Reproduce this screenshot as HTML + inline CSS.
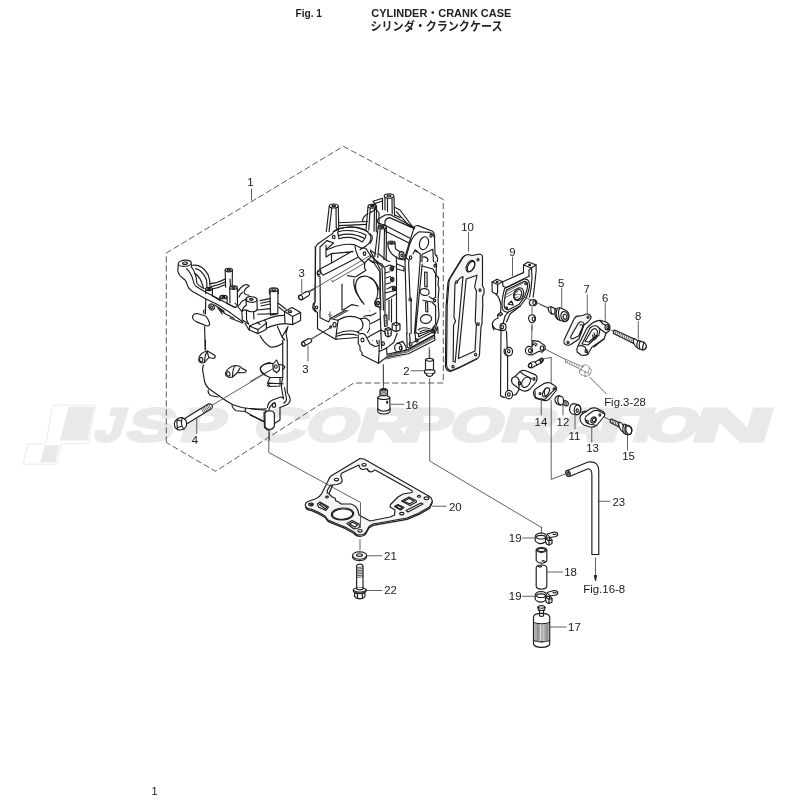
<!DOCTYPE html>
<html lang="ja"><head><meta charset="utf-8"><title>Fig. 1 CYLINDER・CRANK CASE</title>
<style>
html,body{margin:0;padding:0;background:#fff;}
body{width:800px;height:800px;overflow:hidden;position:relative;font-family:"Liberation Sans","Noto Sans CJK JP",sans-serif;}
svg{position:absolute;left:0;top:0;display:block;filter:grayscale(1)}
.l{fill:none;stroke:#1c1c1c;stroke-width:1.15;stroke-linecap:round;stroke-linejoin:round}
.t{fill:none;stroke:#444;stroke-width:0.85;stroke-linecap:round;stroke-linejoin:round}
.w{fill:#fff;stroke:#1c1c1c;stroke-width:1.15;stroke-linecap:round;stroke-linejoin:round}
.k{fill:#1a1a1a;stroke:#1a1a1a;stroke-width:0.6;stroke-linejoin:round}
path,ellipse,circle,line,rect,polygon,polyline{vector-effect:non-scaling-stroke}
.d{fill:none;stroke:#4a4a4a;stroke-width:0.9;stroke-dasharray:6.2 2.8}
.n{font-family:"Liberation Sans",sans-serif;font-size:11.4px;fill:#1a1a1a}
.wm{font-family:"Liberation Sans",sans-serif;font-weight:bold;font-style:italic;fill:#e9e9e9}
</style></head><body>
<svg width="800" height="800" viewBox="0 0 800 800">
<g id="watermark">
<path d="M52.8 405.2 L95.5 405.2 L88 443.8 L61.8 443.8 L55.8 464.3 L22.8 464.3 L28 443.8 L46 443.8 Z" fill="#fff" stroke="#f1f1f1" stroke-width="1.6"/>
<path d="M68.5 406.7 L94 406.7 L87.3 440.5 L60 440.5 Z" fill="#e9e9e9"/>
<path d="M45 445.3 Q46 445.3 59.5 445.3 L55 462.5 L40 462.5 Z" fill="#e9e9e9"/>
<text class="wm" style="font-style:normal;vector-effect:non-scaling-stroke" transform="translate(0,440.75) skewX(-16.5) scale(1.5,1)" y="0" font-size="46.51" stroke="#e9e9e9" stroke-width="3.0" stroke-linejoin="miter"><tspan x="61.83" textLength="18.81" lengthAdjust="spacingAndGlyphs">J</tspan><tspan x="82.64" textLength="31.18" lengthAdjust="spacingAndGlyphs">S</tspan><tspan x="118.75" textLength="29.07" lengthAdjust="spacingAndGlyphs">P</tspan></text>
<text class="wm" style="font-style:normal;vector-effect:non-scaling-stroke" transform="translate(0,440.75) skewX(-16.5) scale(1.5,1)" y="0" font-size="46.51" stroke="#e9e9e9" stroke-width="3.0" stroke-linejoin="miter"><tspan x="167.54" textLength="34.59" lengthAdjust="spacingAndGlyphs">C</tspan><tspan x="202.15" textLength="35.08" lengthAdjust="spacingAndGlyphs">O</tspan><tspan x="236.36" textLength="35.63" lengthAdjust="spacingAndGlyphs">R</tspan><tspan x="266.70" textLength="32.21" lengthAdjust="spacingAndGlyphs">P</tspan><tspan x="298.32" textLength="35.08" lengthAdjust="spacingAndGlyphs">O</tspan><tspan x="332.63" textLength="35.63" lengthAdjust="spacingAndGlyphs">R</tspan><tspan x="366.18" textLength="35.15" lengthAdjust="spacingAndGlyphs">A</tspan><tspan x="387.06" textLength="33.89" lengthAdjust="spacingAndGlyphs">T</tspan><tspan x="420.39" textLength="12.23" lengthAdjust="spacingAndGlyphs">I</tspan><tspan x="428.48" textLength="35.08" lengthAdjust="spacingAndGlyphs">O</tspan><tspan x="459.74" textLength="52.39" lengthAdjust="spacingAndGlyphs">N</tspan></text>
</g>
<g id="title">
<text x="295.5" y="17" style="font-family:'Liberation Sans',sans-serif;font-size:10.5px;font-weight:bold;fill:#222" textLength="26.5" lengthAdjust="spacingAndGlyphs">Fig. 1</text>
<text x="371.3" y="17" style="font-family:'Liberation Sans','Noto Sans CJK JP',sans-serif;font-size:11px;font-weight:bold;fill:#222" textLength="140" lengthAdjust="spacingAndGlyphs">CYLINDER・CRANK CASE</text>
<text x="370.5" y="31" style="font-family:'Liberation Sans','Noto Sans CJK JP',sans-serif;font-size:12px;font-weight:700;fill:#222" textLength="132" lengthAdjust="spacingAndGlyphs">シリンダ・クランクケース</text>
<text x="151.5" y="794.5" class="n" style="font-size:11px">1</text>
</g>
<g id="dash">
<path class="d" d="M166.3 442.5 L166.3 253 L343.3 146.3 L443.3 199.5 L443.3 383 L353.8 383 L215.5 471.3 Z"/>
</g>
<g id="crankcase">
<g transform="translate(170,250) scale(0.1)" class="l">
<!-- boss top-left -->
<ellipse cx="148" cy="132" rx="65" ry="31" transform="rotate(-5 148 132)"/>
<ellipse cx="151" cy="132" rx="25" ry="12" transform="rotate(-5 151 132)"/>
<path d="M83 140 L78 210 Q86 252 126 280 Q162 300 170 342 Q180 386 226 416 L360 490 L480 548 L600 624"/>
<path d="M213 138 L215 170"/>
<!-- arm inner s-curves -->
<path d="M165 186 Q216 236 230 300 Q236 342 262 366 L345 414 L650 574"/>
<path d="M215 170 Q266 240 266 320 Q272 352 340 386"/>
<!-- arch -->
<path d="M225 152 Q322 140 380 246 Q400 292 400 360"/>
<path d="M256 186 Q322 196 366 300 L370 372"/>
<path d="M246 236 Q300 252 336 384"/>
<!-- boss 1 -->
<ellipse cx="390" cy="390" rx="34" ry="16"/><ellipse cx="390" cy="390" rx="14" ry="6"/>
<path d="M356 392 L358 436 M424 392 L424 458"/>
<!-- boss 2 -->
<ellipse cx="535" cy="470" rx="36" ry="17"/><ellipse cx="535" cy="470" rx="15" ry="7"/>
<path d="M499 472 L500 506 M571 472 L571 534"/>
<!-- tall post -->
<ellipse cx="588" cy="200" rx="36" ry="18"/><ellipse cx="588" cy="200" rx="17" ry="8"/>
<path d="M552 204 L556 372 M624 204 L622 360 M600 290 L604 360"/>
<!-- post 2 -->
<ellipse cx="635" cy="376" rx="38" ry="18"/><ellipse cx="635" cy="376" rx="17" ry="8"/>
<path d="M597 380 L600 530 M673 380 L675 546"/>
<!-- back arcs -->
<path d="M400 336 Q480 330 552 290 M410 366 Q480 356 554 320 M420 390 Q490 380 555 346"/>
<!-- curved lug right -->
<path d="M676 420 Q700 372 746 350 Q776 340 792 362 Q750 380 740 420 Q745 450 790 452 M690 470 Q700 440 725 425"/>
<path d="M424 458 L500 506 M571 534 L650 574 Q682 570 700 540 Q722 500 770 490"/>
<!-- screw -->
<ellipse cx="415" cy="570" rx="26" ry="32" transform="rotate(-30 415 570)"/>
<ellipse cx="412" cy="572" rx="11" ry="14" transform="rotate(-30 412 572)"/>
<path d="M440 548 L470 564 L522 640 M478 580 L560 642 L640 682 M470 564 L540 612"/>
<!-- body left -->
<path d="M358 490 L354 640 M346 765 L352 1000 M340 600 Q330 615 340 632"/>
<!-- pill lug -->
<path class="w" d="M225 675 Q225 636 270 635 L345 655 Q372 666 396 730 Q400 756 370 760 L260 716 Q228 700 225 675 Z"/>
</g>
<g transform="translate(230,290) scale(0.1)" class="l">
<!-- right boss -->
<ellipse cx="215" cy="95" rx="56" ry="28" transform="rotate(4 215 95)"/>
<ellipse cx="213" cy="95" rx="18" ry="9"/>
<path d="M160 100 L164 150 Q130 170 118 215 L124 300 L186 340 M270 102 L272 192"/>
<path d="M118 215 Q135 196 164 200 L166 300 L186 340 M164 200 Q200 225 236 215 L240 290"/>
<path d="M272 192 Q262 215 236 215"/>
<!-- lower block -->
<path d="M195 360 L275 326 L345 300 L366 330 L362 396 L280 436 L195 400 Z"/>
<path d="M195 360 L280 396 L366 330 M280 396 L280 436 M275 326 L300 345"/>
<!-- saddle -->
<path d="M345 300 Q440 256 545 254 M366 382 Q450 342 550 336"/>
<!-- right block -->
<path d="M545 216 L620 175 L706 225 L626 266 Z"/>
<ellipse cx="600" cy="216" rx="18" ry="10"/>
<path d="M545 216 L550 336 L626 346 L626 266 M706 225 L706 306 L626 346"/>
<!-- post -->
<path d="M400 0 L405 250 M480 0 L478 236"/>
<!-- lines behind -->
<path d="M300 106 L400 86 M306 132 L400 112 M310 160 L400 140 M275 200 L400 186 M480 130 L560 192 M490 172 L545 216 M276 242 L470 236 M405 250 Q440 250 478 236"/>
<!-- V web -->
<path d="M475 366 L520 470 L580 366 M520 470 L546 500 L546 500 M580 366 L560 430 L572 500"/>
<!-- body step curve -->
<path d="M300 456 Q330 520 400 570 Q470 575 530 530"/>
<path d="M0 226 L130 320 M0 280 L126 330 M150 332 L190 400 M50 130 L118 215"/>
</g>
<g transform="translate(250,270) scale(0.125)" class="l">
<!-- tall post top -->
<ellipse cx="190" cy="158" rx="35" ry="15"/>
<ellipse cx="190" cy="157" rx="17" ry="7"/>
<path d="M155 160 L156 190 M225 160 L224 190"/>
<!-- pins 3 -->
<path class="w" d="M395 205 L450 172 Q470 168 478 185 Q480 200 465 208 L415 238 Q395 240 388 222 Q386 210 395 205 Z"/>
<ellipse cx="405" cy="220" rx="15" ry="19" transform="rotate(-25 405 220)"/>
<path class="w" d="M420 575 L470 548 Q488 548 494 562 Q494 575 485 580 L435 608 Q418 610 412 596 Q410 582 420 575 Z"/>
<ellipse cx="427" cy="592" rx="13" ry="17" transform="rotate(-25 427 592)"/>
<path class="t" d="M470 178 L800 0 M490 555 L650 458"/>
</g>
<g transform="translate(170,340) scale(0.125)" class="l">
<path d="M283 0 L284 78 M268 200 Q255 230 265 262 L276 330 Q286 372 320 396 L400 452 Q450 490 500 516 Q600 560 770 550"/>
<path d="M306 400 Q300 430 330 446 L385 456 M496 520 Q500 550 530 566 L600 572 L606 546 M600 572 L745 652"/>
<!-- lug1 -->
<path class="w" d="M240 125 Q258 95 300 88 L360 124 Q366 140 350 148 L310 140 L276 180 Q242 192 230 162 Q228 136 240 125 Z"/>
<ellipse cx="250" cy="157" rx="13" ry="18" transform="rotate(-15 250 157)"/>
<path d="M300 88 Q280 110 276 180 M310 140 L300 100"/>
<!-- lug2 -->
<path class="w" d="M450 250 Q470 214 522 204 Q560 204 576 226 L610 245 Q612 258 595 262 L540 260 L500 296 Q462 306 446 282 Q440 262 450 250 Z"/>
<ellipse cx="466" cy="271" rx="13" ry="18" transform="rotate(-15 466 271)"/>
<path d="M522 204 Q500 230 500 296 M540 260 L560 225"/>
<!-- bolt 4 -->
<path class="t" d="M340 520 L800 245"/>
<path class="w" d="M112 632 L302 514 Q326 504 338 522 Q344 540 330 550 L136 670 Z"/>
<path class="t" d="M250 548 L268 580 M262 541 L280 573 M274 534 L292 566 M286 527 L304 559 M298 520 L316 552 M310 514 L326 545"/>
<path class="w" d="M60 632 Q80 618 100 622 L126 640 Q140 665 130 690 L112 712 Q85 724 62 718 L40 700 Q30 670 40 650 Z"/>
<path d="M100 622 Q88 640 92 670 Q96 700 112 712 M60 632 Q50 660 62 718 M62 640 L92 650 M60 700 L95 690"/>
<!-- right partial shapes -->
<path d="M800 180 Q740 190 722 225 Q720 255 760 272 M780 350 L800 342 M780 365 L800 372"/>
<path class="w" d="M752 580 Q775 565 800 572 L800 720 Q775 725 756 700 Z"/>
</g>
<g transform="translate(250,340) scale(0.125)" class="l">
<path d="M262 0 L262 300 Q250 340 252 380 L268 470 M298 0 L298 420 Q322 450 322 480 Q318 506 290 520 L240 540"/>
<path d="M276 380 L292 470 Q290 500 270 505"/>
<!-- oval recess -->
<path d="M186 188 Q110 180 84 222 Q78 262 130 286 L160 300 L262 300 M236 196 Q270 200 280 215 L262 240"/>
<path class="w" d="M182 196 L212 160 L232 200 L236 240 L212 262 L186 240 Z"/>
<ellipse cx="207" cy="212" rx="11" ry="14"/>
<path d="M140 345 L160 300 M140 345 L264 350 M160 372 L240 368 L240 300 M140 345 L160 372"/>
<path class="t" d="M0 332 L192 224"/>
<!-- lower boss -->
<path d="M140 540 Q140 500 180 480 L240 458 Q262 452 268 470 M150 560 Q160 520 200 500"/>
<ellipse cx="192" cy="522" rx="13" ry="17"/>
<path d="M0 550 L130 562 M0 600 L120 655 M240 540 L240 640 L196 668"/>
<path class="w" d="M120 590 Q125 568 156 566 Q190 568 195 590 L195 690 Q185 715 156 716 Q125 712 120 690 Z"/>
<path class="t" d="M155 736 L155 800"/>
</g>
</g>
<g id="cylinder">
<g transform="translate(305,190) scale(0.125)" class="l">
<!-- post1 -->
<ellipse cx="230" cy="128" rx="36" ry="16"/><ellipse cx="230" cy="127" rx="14" ry="6"/>
<path d="M194 132 L168 352 M266 132 L270 300 M214 146 L192 335 M248 146 L250 300"/>
<!-- post2 -->
<ellipse cx="538" cy="130" rx="34" ry="15"/><ellipse cx="538" cy="129" rx="14" ry="6"/>
<path d="M504 134 L488 318 M572 134 L570 335 M522 146 L510 320 M556 146 L552 330"/>
<!-- post3 -->
<ellipse cx="618" cy="296" rx="33" ry="15"/><ellipse cx="618" cy="295" rx="14" ry="6"/>
<path d="M585 300 L558 532 M651 300 L650 560 M602 312 L582 540 M636 312 L632 555"/>
<!-- post4 -->
<ellipse cx="672" cy="48" rx="38" ry="18"/><ellipse cx="672" cy="47" rx="16" ry="7"/>

<!-- bearing arcs -->
<path d="M215 346 Q262 300 372 295 Q482 300 536 366 Q546 402 510 442 Q492 470 468 482"/>
<path d="M270 356 Q372 320 492 362 M276 386 Q372 350 482 392 M240 442 Q352 400 470 432"/>
<path d="M270 356 L276 386 M492 362 Q500 400 470 432 M250 300 Q262 310 270 330"/>
<path d="M270 262 L500 252 M272 285 L492 275 M460 250 Q462 210 504 190"/>
<!-- left frame -->
<path d="M215 346 L95 440 L95 640 M80 452 L80 800 M168 352 L168 480 L200 505 M180 400 L240 442 L165 490"/>
<path d="M95 440 L80 452 M122 470 L122 640 M122 470 L180 420"/>
<ellipse cx="232" cy="378" rx="12" ry="15"/>
<ellipse cx="112" cy="662" rx="13" ry="16"/>
<path d="M95 640 Q90 680 112 690 L150 690 L150 800 M122 640 L215 595 L470 478 M140 700 L440 552 M215 595 L215 505 L360 440"/>
<path d="M215 740 L340 680 L400 700 M340 680 L340 640"/>
<!-- web to right -->
<ellipse cx="478" cy="506" rx="13" ry="16"/>
<path d="M440 470 Q450 440 480 450 L530 500 L560 560 L620 600 L640 800"/>
<path d="M400 445 Q420 520 460 560 Q500 600 520 660 L560 800 M420 470 Q440 540 500 580 L540 640 L590 800"/>
<path d="M440 552 Q480 560 500 600 M430 720 Q440 690 480 690 Q540 700 560 760 M430 720 L430 800"/>
<path class="t" d="M70 792 L520 540 M100 800 L500 575"/>
</g>
<g transform="translate(380,210) scale(0.1)" class="l">
<!-- exhaust face plate top -->
<path d="M258 480 L298 340 Q330 250 392 218 L492 224 Q540 236 545 282 L550 440 L576 480 L572 540 L582 580 L578 800"/>
<path d="M340 178 Q352 152 380 156 L526 212 Q548 232 548 272 M340 178 L292 330 L250 470 L262 800 M258 480 L290 500 L300 800"/>
<ellipse cx="440" cy="332" rx="44" ry="66" transform="rotate(18 440 332)"/>
<ellipse cx="510" cy="258" rx="11" ry="14"/>
<ellipse cx="306" cy="476" rx="12" ry="17"/>
<ellipse cx="548" cy="556" rx="10" ry="14"/>
<path d="M330 440 L352 398 L402 440 L402 800 M352 398 L362 420 M420 445 L528 392 L536 540 L440 590 L430 800 M420 445 L420 560"/>
<path d="M430 470 Q470 460 480 500 Q470 540 430 540"/>
<path d="M448 610 L448 760 L470 770 L470 620 Z"/>
<path d="M556 450 L570 455 M560 640 L585 660 L580 700"/>
<!-- gasket10 edge on right -->
</g>
<g transform="translate(305,285) scale(0.125)" class="l">
<path d="M76 0 L76 135 Q60 150 62 182 Q70 212 100 218 L100 350 L244 434 L256 432"/>
<path d="M120 0 L120 262 L190 296 L202 268"/>
<ellipse cx="92" cy="180" rx="13" ry="17"/>
<ellipse cx="236" cy="318" rx="13" ry="18"/>
<ellipse cx="205" cy="336" rx="7" ry="9"/>
<path d="M300 0 L300 180 M202 268 L420 150 L470 160 M202 268 L262 282"/>
<path class="t" d="M215 262 L425 146 M228 268 L380 184 M240 262 L340 206 M200 215 L200 260 M190 235 L200 255 L212 238"/>
<!-- lower bearing -->
<path d="M264 282 Q350 226 442 270 Q472 300 460 342 Q450 362 420 376"/>
<path d="M250 392 Q340 350 420 376 M246 412 Q340 380 416 402 M246 434 L416 420 M264 282 L250 392 L246 434"/>
<path d="M442 270 Q500 250 520 300 Q530 340 500 380 M470 250 L560 235"/>
<!-- chamber wall -->
<path d="M395 0 Q410 90 470 160 M430 0 Q452 100 520 200 Q540 262 522 330"/>
<!-- right frame -->
<path d="M420 376 L440 392 Q462 380 482 400 L520 470 L560 492 L600 482"/>
<path d="M426 400 L426 470 L440 490 L440 520 L456 540 L456 560 L586 626 L640 592 L800 560 M586 626 L600 530 L640 500 M640 592 L650 520"/>
<ellipse cx="460" cy="440" rx="12" ry="15"/>
<ellipse cx="626" cy="466" rx="13" ry="16"/>
<path d="M600 0 L600 100 Q570 110 560 142 Q565 182 590 192 L612 482 M630 0 L642 460 M520 390 L600 350 M500 420 L560 392 L580 470 M540 440 L610 400"/>
<ellipse cx="582" cy="148" rx="12" ry="16"/>
<!-- right details -->
<path d="M640 240 L650 240 L654 330 L640 330 Z"/>
<path class="t" d="M640 255 L652 255 M640 270 L652 270 M640 285 L653 285 M640 300 L653 300 M640 315 L654 315"/>
<path d="M700 310 L740 295 L765 310 L765 360 L730 378 L700 360 Z M700 310 L730 326 L765 310 M730 326 L730 378"/>
<path d="M640 350 L672 338 L692 350 L692 405 L662 420 L640 405 Z M640 350 L662 364 L692 350 M662 364 L662 420"/>
<path d="M660 0 L660 60 L720 30 M660 100 L740 70 L740 290 M690 110 L690 340"/>
<path d="M650 0 L700 20 L720 0"/>
<path d="M720 400 L800 460 M650 560 L800 540 M700 430 L740 470"/>
<ellipse cx="748" cy="500" rx="24" ry="28"/><ellipse cx="768" cy="502" rx="14" ry="18"/>
<path class="t" d="M130 0 L0 62 M205 340 L50 430 M626 640 L626 800"/>
</g>
<g transform="translate(380,290) scale(0.1)" class="l">
<path d="M580 0 L572 150 L586 170 L580 260 L590 292 L560 400 L546 442 L300 562 L268 520 L262 0"/>
<path d="M292 120 L300 500 M300 0 L292 80 M340 0 L320 470 M395 0 L368 420 L420 440 L520 385 M370 0 L350 440"/>
<path d="M420 60 L520 90 L556 130 L556 340 L520 385 M420 60 L400 110 M440 100 L520 130 L530 330"/>
<ellipse cx="298" cy="100" rx="11" ry="14"/>
<ellipse cx="546" cy="100" rx="14" ry="17"/>
<ellipse cx="530" cy="408" rx="13" ry="16"/>
<ellipse cx="372" cy="498" rx="13" ry="16"/>
<ellipse cx="306" cy="540" rx="12" ry="15"/>
<path d="M455 120 L475 120 L475 215 L455 215 Z"/>
<ellipse cx="456" cy="282" rx="60" ry="44" transform="rotate(-8 456 282)"/>
<path d="M400 392 Q420 340 484 352 M420 400 Q450 380 500 395"/>
<path d="M440 0 Q470 20 490 0"/>
<path d="M546 442 L548 492 L300 632 L60 682 L0 722 M300 562 L282 602 L60 652 L0 690"/>
<path class="t" d="M320 580 L540 462 M312 600 L546 476 M300 616 L546 486 M80 665 L290 618"/>
<ellipse cx="186" cy="576" rx="30" ry="36"/><ellipse cx="205" cy="580" rx="12" ry="16"/>
<path d="M150 560 L200 470 L262 520 M160 610 L250 600"/>
<!-- spring and blocks -->
<path d="M40 250 L68 250 L72 360 L44 360 Z"/>
<path class="t" d="M42 268 L68 268 M42 286 L70 286 M43 304 L70 304 M43 322 L71 322 M44 340 L72 340"/>
<path d="M120 335 L168 318 L200 335 L200 395 L160 412 L120 395 Z M120 335 L160 352 L200 335 M160 352 L160 412"/>
<path d="M50 390 L88 378 L112 392 L112 450 L76 465 L50 450 Z M50 390 L76 405 L112 392 M76 405 L76 465"/>
<path d="M20 0 L30 250 M90 0 L90 330 M160 0 L165 318 M30 100 L160 60 M0 470 L100 470 L180 450 M0 600 L60 580 L150 560 M60 652 L60 682"/>
<ellipse cx="25" cy="530" rx="15" ry="20"/>
<path class="t" d="M492 572 L492 672"/>
</g>
<g transform="translate(370,350) scale(0.1)" class="l">
<!-- pin 2 -->
<path class="t" d="M597 0 L597 80"/>
<path class="w" d="M555 98 Q560 84 595 82 Q630 84 635 98 L635 206 L555 206 Z"/>
<path d="M555 98 Q570 112 595 112 Q620 112 635 98"/>
<path class="w" d="M545 206 Q550 198 597 196 Q644 198 648 208 L648 226 Q640 238 597 240 Q552 238 545 226 Z"/>
<path class="w" d="M566 238 L566 252 Q580 264 597 264 Q615 264 626 252 L626 238"/>
<!-- valve 16 -->
<path class="t" d="M135 146 L135 388"/>
<path class="w" d="M100 402 Q105 388 137 386 Q170 388 175 402 L175 462 L100 462 Z"/>
<ellipse cx="137" cy="402" rx="22" ry="8"/>
<path class="t" d="M100 418 Q137 432 175 418 M100 434 Q137 448 175 434 M100 448 Q137 462 175 448"/>
<path class="w" d="M78 476 Q84 458 138 455 Q192 458 198 476 L200 614 Q192 638 138 640 Q84 638 78 614 Z"/>
<path d="M78 476 Q90 494 138 495 Q188 494 198 476 M78 590 Q100 610 138 612 Q180 610 200 590"/>
<ellipse cx="172" cy="522" rx="5" ry="12"/>
</g>
<g transform="translate(370,190) scale(0.1)" class="l">
<!-- post4 block details -->
<path d="M125 82 L125 196 M150 72 L150 200 M240 72 L245 250 M175 86 L175 216 M220 86 L222 240"/>
<path d="M30 112 L125 82 M45 136 L125 110 M30 112 L45 136 L60 190"/>
<!-- top of block -->
<path d="M70 300 L150 250 L200 246 L440 372 M150 312 Q160 282 196 276 L446 386 M150 312 L150 352 M70 300 L80 330 L150 352"/>
<path d="M245 172 L300 200 L420 360 M262 216 L400 366 M245 250 L300 276"/>
<path d="M150 352 L400 482 M170 420 L392 530 M160 380 L160 420"/>
<!-- valve boss -->
<ellipse cx="215" cy="526" rx="36" ry="16"/><ellipse cx="215" cy="527" rx="17" ry="7"/>
<path d="M180 530 L180 562 M250 530 L255 590 L300 618 M180 562 Q196 640 262 670 L290 690"/>
<ellipse cx="316" cy="652" rx="25" ry="36"/><ellipse cx="319" cy="653" rx="10" ry="15"/>
<path d="M262 670 L270 800 M290 690 L340 700 L360 680 M160 700 L240 740 L262 800 M90 640 L160 700"/>
<path d="M0 600 L60 640 M0 700 L80 760 L200 800"/>
<ellipse cx="225" cy="775" rx="16" ry="20"/>
<path d="M60 190 L0 230 M60 190 L90 230 M90 230 L90 372"/>
</g>
</g>
<g id="cylfix">
<rect x="370" y="262" width="71" height="78" fill="#fff"/>
<g transform="translate(370,260) scale(0.1)" class="l">
<!-- left rib -->
<path d="M20 20 L70 30 L100 90 L100 380 Q50 390 50 430 Q56 472 100 472 L112 800 M60 20 L120 40 L150 90 L150 560"/>
<ellipse cx="80" cy="432" rx="14" ry="18"/>
<path d="M0 176 Q60 200 92 300 M0 560 L60 530 M0 640 L100 590 M0 760 L110 700"/>
<!-- valve guide bosses -->
<path d="M150 70 L200 50 L250 70 M150 130 L196 118 M160 180 L205 165 M160 240 L205 228 M170 290 L222 262 M150 330 L230 310 L260 300"/>
<ellipse cx="218" cy="88" rx="17" ry="22"/><ellipse cx="218" cy="88" rx="7" ry="10"/>
<ellipse cx="222" cy="196" rx="17" ry="22"/><ellipse cx="222" cy="196" rx="7" ry="10"/>
<ellipse cx="240" cy="286" rx="17" ry="22"/><ellipse cx="240" cy="286" rx="7" ry="10"/>
<path d="M265 20 L265 640 M160 400 L262 340 M190 400 L190 600 M215 390 L215 620"/>
<path d="M270 40 L340 70 L340 110 L270 90"/>
<!-- spring -->
<path d="M140 552 L168 548 L172 660 L146 664 Z"/>
<path class="t" d="M141 570 L169 566 M142 588 L170 584 M143 606 L170 602 M144 624 L171 620 M145 642 L172 638"/>
<!-- blocks -->
<path d="M222 640 L262 622 L300 640 L300 700 L262 716 L222 700 Z M222 640 L262 658 L300 640 M262 658 L262 716"/>
<path d="M150 690 L186 676 L212 690 L212 752 L178 768 L150 752 Z M150 690 L178 704 L212 690 M178 704 L178 768"/>
<path d="M110 700 L150 720 M120 780 L170 800"/>
<!-- face plate left flange -->
<path d="M350 20 L372 800 M386 20 L400 372 Q422 392 410 420 L412 800"/>
<ellipse cx="400" cy="396" rx="10" ry="14"/>
<path d="M500 20 L440 800 M522 40 L456 720 L480 742"/>
<!-- right outer edge -->
<path d="M650 20 L666 42 L660 150 L686 180 L680 250 L690 282 L680 400 L690 560 L680 600 L642 720 L632 800"/>
<ellipse cx="650" cy="56" rx="11" ry="13"/>
<ellipse cx="646" cy="406" rx="11" ry="13"/>
<ellipse cx="630" cy="712" rx="11" ry="13"/>
<!-- windows -->
<path d="M522 60 L630 90 L656 140 L656 372 L626 390 L592 366 M530 402 L620 420 L656 460 L656 640 L612 700 L480 742"/>
<path d="M546 120 L570 124 L572 270 L548 266 Z M556 420 L576 424 L578 520 L558 516 Z"/>
<ellipse cx="546" cy="320" rx="46" ry="34" transform="rotate(10 546 320)"/>
<ellipse cx="560" cy="590" rx="56" ry="44" transform="rotate(-10 560 590)"/>
<path d="M484 700 Q520 660 600 690 M500 720 Q540 690 590 706"/>
</g>
<rect x="314.5" y="232" width="55.5" height="78" fill="#fff"/>
<g transform="translate(310,215) scale(0.1)" class="l">
<!-- bearing arcs -->
<path d="M225 186 Q240 150 290 136 Q420 100 540 146 Q600 176 610 230 Q606 282 560 310 L520 336"/>
<path d="M276 170 Q420 130 560 200 M286 206 Q420 166 546 236 M290 238 Q420 198 522 270 M276 170 L290 238 M560 200 Q556 240 522 270"/>
<path d="M215 330 Q330 282 440 296 L520 336 M160 350 L215 330"/>
<!-- left frame -->
<path d="M225 186 L76 290 L56 320 L52 870 Q38 890 40 925 Q44 950 56 955 M170 256 L100 320 L100 540 Q70 560 72 585 Q76 612 100 616 L104 950"/>
<path d="M170 256 L236 280 L160 346 L160 300 M160 346 L160 420 L215 386"/>
<ellipse cx="238" cy="220" rx="13" ry="17"/>
<ellipse cx="90" cy="578" rx="14" ry="18"/>
<ellipse cx="66" cy="925" rx="11" ry="15"/>
<!-- inner block and rails -->
<path d="M215 386 L430 366 M215 386 L215 480 M110 536 L215 480 L420 362 M130 602 L480 422 M110 536 Q96 570 130 602"/>
<path class="t" d="M0 762 L590 412 M225 668 L545 482 M215 655 L235 668"/>
<!-- cap web -->
<path d="M450 310 Q456 380 492 430 Q520 460 546 480 M500 350 Q520 316 560 336 L602 400 Q612 432 582 442 L546 480"/>
<ellipse cx="545" cy="386" rx="13" ry="17"/>
<path d="M602 400 L640 440 L720 512 L735 950 M582 442 L640 480 L700 570 L708 950 M640 440 L640 480"/>
<path d="M546 530 L560 552 L455 620 L375 606 M546 530 L546 480"/>
<!-- big opening -->
<path d="M470 650 Q500 606 570 612 Q650 640 672 720 Q690 800 656 856"/>
<path d="M470 650 Q440 710 470 780 Q492 832 540 892 M440 640 Q430 690 460 772 L520 872"/>
<ellipse cx="680" cy="880" rx="13" ry="17"/>
<path d="M656 856 Q640 880 656 910 L700 920"/>
<path d="M330 950 L420 896 L482 910 M320 690 L320 950"/>
</g>
<path d="M379 334 L441 334 L441 339 L435.5 341.5 L409 355 L386.5 358.5 L379 364.5 Z" fill="#fff"/>
<g transform="translate(360,320) scale(0.1125)" class="l">
<path d="M165 385 L170 280 L236 250 L240 306 M165 385 L232 332 L430 300 L666 180 L662 132 M240 306 L420 266 L650 142"/>
<path class="t" d="M236 322 L424 284 L658 162 M240 314 L422 275 L654 152"/>
<path d="M170 280 L170 180 M236 250 L300 200 L330 120 M186 120 L192 250"/>
<ellipse cx="205" cy="210" rx="12" ry="15"/>
<path d="M226 118 L226 138 L250 152 L276 138 L276 118 M250 152 L250 118"/>
<!-- drain boss -->
<ellipse cx="340" cy="246" rx="32" ry="38"/><ellipse cx="362" cy="250" rx="12" ry="16"/>
<path d="M330 208 L380 190 L410 240 L410 268"/>
<!-- face plate bottom flange -->
<path d="M415 120 L420 240 L440 252 L662 132 L690 60 L694 120"/>
<path d="M440 120 L446 190 Q430 215 446 236 M490 120 L494 172 M520 120 L522 150 Q560 130 640 96 L662 60"/>
<ellipse cx="452" cy="214" rx="11" ry="14"/>
<ellipse cx="505" cy="182" rx="11" ry="14"/>
<ellipse cx="650" cy="100" rx="11" ry="14"/>
<path d="M470 200 L640 112"/>
</g>
</g>
<g id="gasket10">
<g transform="translate(430,230) scale(0.1)" class="l">
<path transform="translate(-11,9)" class="w" d="M385 245 L420 255 L500 240 Q525 245 525 270 L525 560 L540 585 L540 640 L526 660 L528 760 L520 900 Q525 935 510 970 L496 1220 Q500 1262 480 1280 L300 1370 L215 1405 Q170 1400 165 1350 L172 750 L190 520 Q195 490 210 470 L330 275 Q350 245 385 245 Z"/>
<path fill="#f6f6f6" fill-rule="evenodd" d="M385 245 L420 255 L500 240 Q525 245 525 270 L525 560 L540 585 L540 640 L526 660 L528 760 L520 900 Q525 935 510 970 L496 1220 Q500 1262 480 1280 L300 1370 L215 1405 Q170 1400 165 1350 L172 750 L190 520 Q195 490 210 470 L330 275 Q350 245 385 245 Z
M250 532 L270 520 L300 482 L330 465 L252 1322 L232 1312 L236 952 L256 912 L240 872 Z
M362 490 L470 452 L446 570 L464 610 L452 910 L464 950 L450 1210 L284 1286 Z"/>
<ellipse cx="405" cy="362" rx="38" ry="62" transform="rotate(28 405 362)" fill="#fff"/>
<ellipse cx="410" cy="364" rx="30" ry="54" transform="rotate(28 410 364)"/>
<ellipse cx="480" cy="298" rx="10" ry="12" fill="#fff"/>
<ellipse cx="266" cy="520" rx="10" ry="12" fill="#fff"/>
<ellipse cx="500" cy="600" rx="10" ry="13" fill="#fff"/>
<ellipse cx="482" cy="940" rx="11" ry="13" fill="#fff"/>
<ellipse cx="456" cy="1245" rx="11" ry="13" fill="#fff"/>
<ellipse cx="230" cy="1365" rx="11" ry="13" fill="#fff"/>

</g>
</g>
<g id="plate9">
<g transform="translate(485,250) scale(0.1)" class="l">
<!-- top right block -->
<path d="M385 150 L430 120 L510 148 L465 180 Z"/>
<ellipse cx="446" cy="149" rx="9" ry="6"/>
<path d="M385 150 L385 226 M510 148 L512 200 Q500 330 482 470 M465 180 L440 200 L440 262 M465 180 L470 280 Q465 380 445 470"/>
<!-- left block -->
<path d="M70 320 L120 292 L176 318 L126 346 Z"/>
<ellipse cx="121" cy="320" rx="9" ry="6"/>
<path d="M70 320 L72 420 L110 440 M126 346 L126 432 L110 440 M176 318 L180 362 L210 375"/>
<path d="M176 318 L385 226 M210 375 L440 262"/>
<!-- diamond flange -->
<path d="M196 384 L392 290 Q430 288 440 320 L446 362 Q440 402 412 480 L352 560 L232 622 Q190 622 176 592 L170 560 Q166 500 196 384 Z"/>
<path d="M214 400 L392 312 Q418 312 424 334 L426 366 Q420 400 396 468 L342 542 L236 598 Q206 598 196 578 L192 556 Q190 500 214 400 Z"/>
<path class="t" d="M205 420 L380 330 M200 450 L300 395 M196 480 L270 440"/>
<ellipse cx="336" cy="442" rx="48" ry="66" transform="rotate(22 336 442)"/>
<ellipse cx="330" cy="446" rx="34" ry="52" transform="rotate(22 330 446)"/>
<path class="t" d="M298 430 L330 412 M296 456 L326 440 M300 482 L330 466"/>
<ellipse cx="406" cy="336" rx="9" ry="11"/>
<ellipse cx="216" cy="580" rx="9" ry="11"/>
<path d="M230 542 L266 510 L282 550 Z"/>
<!-- left contour downwards -->
<path d="M110 440 Q150 480 160 560 L156 622 L126 650 L130 682 Q90 690 75 730 Q70 770 90 800 M156 622 L176 640 L150 660 M232 622 L200 660 L180 740 M352 560 L250 640 L215 720"/>
<path d="M130 655 L150 645"/>
<ellipse cx="180" cy="770" rx="30" ry="36"/><ellipse cx="172" cy="772" rx="13" ry="17"/>
<!-- leader through bore -->
<path class="t" d="M336 442 L640 582 M470 572 L470 640 M470 742 L470 800"/>
<!-- spacers -->
<path class="w" d="M445 520 Q450 495 490 495 Q518 500 518 528 Q515 556 490 558 L460 556 Q440 545 445 520 Z"/>
<ellipse cx="492" cy="527" rx="14" ry="18"/>
<path class="w" d="M435 680 Q440 650 475 648 Q506 655 506 690 Q500 725 470 728 Q440 722 435 680 Z"/>
<ellipse cx="486" cy="690" rx="14" ry="20"/>
</g>
<g transform="translate(485,320) scale(0.1)" class="l">
<path d="M75 30 Q70 72 110 90 L160 106 M160 106 L155 750 Q160 770 200 776 M215 110 L222 282 M226 360 L226 700"/>
<ellipse cx="240" cy="316" rx="36" ry="42"/><ellipse cx="238" cy="312" rx="13" ry="17"/>
<path d="M195 290 Q180 330 215 356"/>
<ellipse cx="240" cy="746" rx="36" ry="42"/><ellipse cx="238" cy="744" rx="13" ry="17"/>
<path d="M272 752 L310 746 L342 692"/>
<!-- elbow fitting bracket -->
<path class="t" d="M470 60 L466 262"/>
<path d="M478 206 L540 214 L600 258 L602 292 L572 322 L540 312 L470 350 L440 348"/>
<ellipse cx="440" cy="305" rx="36" ry="42"/><ellipse cx="450" cy="306" rx="15" ry="20"/>
<ellipse cx="570" cy="282" rx="18" ry="22"/>
<path d="M490 230 Q520 230 520 250 M485 245 Q505 245 508 262 M478 206 L476 265"/>
<!-- nipple -->
<path d="M440 440 Q460 410 500 420 L545 395 Q560 375 580 385 Q590 400 578 415 L560 430 L520 450 L470 478 Q440 480 432 460 Z"/>
<ellipse cx="452" cy="455" rx="16" ry="22" transform="rotate(20 452 455)"/>
<path d="M500 420 L520 450 M545 395 L560 430"/>
<ellipse cx="566" cy="400" rx="10" ry="13"/>
<!-- flange boss -->
<path class="w" d="M265 600 Q265 575 300 565 L350 516 Q370 500 400 505 L500 546 Q525 560 520 590 L510 620 L450 690 Q420 716 385 710 L340 690 Q320 666 290 650 Q265 636 265 600 Z"/>
<ellipse cx="410" cy="622" rx="38" ry="56" transform="rotate(32 410 622)"/>
<ellipse cx="345" cy="632" rx="12" ry="16"/>
<ellipse cx="490" cy="590" rx="10" ry="14"/>
<path d="M300 565 Q330 570 340 600 L340 690 M350 516 L385 545 L470 590"/>
<!-- leaders -->
<path class="t" d="M602 292 L805 394"/>
</g>
</g>
<g id="small">
<g transform="translate(540,295) scale(0.1)" class="l">
<!-- part 5 plug -->
<path class="w" d="M80 135 Q85 114 110 118 L152 136 L152 186 L120 192 Q86 176 80 135 Z"/>
<path class="w" d="M150 150 Q162 124 200 128 L252 150 Q292 170 290 216 Q285 262 245 268 L190 250 Q150 236 150 186 Z"/>
<path d="M172 140 Q150 180 176 242 M196 132 Q172 180 200 252 M110 118 Q100 150 120 192"/>
<ellipse cx="246" cy="214" rx="36" ry="50" transform="rotate(-15 246 214)"/>
<ellipse cx="250" cy="218" rx="18" ry="26" transform="rotate(-15 250 218)"/>
<path class="t" d="M0 96 L82 130"/>
<!-- part 7 gasket -->
<path fill="#f4f4f4" fill-rule="evenodd" d="M440 200 Q470 180 500 200 Q516 216 505 240 L480 270 L440 300 L390 440 L300 500 Q255 510 240 480 Q235 455 250 430 L340 240 Q360 205 400 210 Z M400 270 Q430 260 440 290 L386 410 L322 440 Q300 430 310 410 L384 282 Z"/>
<ellipse cx="480" cy="222" rx="10" ry="12"/><ellipse cx="280" cy="476" rx="10" ry="12"/>
<path d="M400 300 Q430 290 430 320"/>
<!-- part 6 cover -->
<path class="w" d="M500 300 Q540 260 600 254 L660 270 Q700 290 700 320 L690 360 L660 382 L640 440 L520 520 L480 590 Q450 612 410 600 L372 570 Q360 540 380 510 L470 330 Z"/>
<path d="M500 330 Q530 300 570 310 L600 340 L590 400 L480 500 L420 490 Z M520 350 Q540 330 560 340 L575 360 L570 400 L490 470 L450 465 Z"/>
<path d="M380 510 Q420 500 450 520 L480 590 M600 340 L660 382 M540 380 L560 440 M525 400 L540 450"/>
<ellipse cx="670" cy="322" rx="20" ry="26"/><ellipse cx="678" cy="324" rx="9" ry="12"/>
<ellipse cx="462" cy="562" rx="12" ry="15"/>
<path d="M600 254 Q620 290 650 300 M640 440 L600 470 L540 520"/>

</g>
<g transform="translate(580,320) scale(0.1)" class="l">
<!-- bolt 8 -->
<path class="t" d="M300 95 L336 112"/>
<path class="w" d="M346 100 L560 198 L542 238 L336 136 Q326 116 346 100 Z"/>
<path class="t" d="M362 108 L350 142 M380 116 L368 150 M398 124 L386 158 M416 132 L404 168 M434 140 L422 176 M452 148 L440 186 M470 158 L458 194 M488 166 L476 204 M506 174 L494 212 M524 182 L512 222 M542 190 L528 230"/>
<ellipse class="w" cx="562" cy="232" rx="22" ry="46" transform="rotate(-25 562 232)"/>
<path class="w" d="M580 204 L640 224 Q668 244 664 270 Q656 298 626 300 L576 282 Q560 250 580 204 Z"/>
<path d="M600 212 Q584 250 598 290 M640 224 Q622 260 626 300"/>
</g>
<g transform="translate(540,350) scale(0.1)" class="l">

<!-- screw 12 -->
<path class="w" d="M236 500 L270 512 Q288 525 284 545 Q276 562 258 558 L226 545 Z"/>
<path class="t" d="M246 505 L238 548 M258 510 L250 553 M270 515 L263 558"/>
<path class="w" d="M150 490 Q155 460 190 456 L225 470 Q240 490 236 520 Q230 550 205 552 L170 540 Q146 520 150 490 Z"/>
<path d="M190 456 Q172 480 178 515 Q184 540 205 552"/>
<!-- collar 11 -->
<path class="w" d="M296 590 Q298 545 335 536 L380 545 Q412 565 408 605 Q400 645 365 648 L325 640 Q294 625 296 590 Z"/>
<ellipse cx="374" cy="598" rx="32" ry="50" transform="rotate(8 374 598)"/>
<ellipse cx="372" cy="606" rx="11" ry="18"/>
</g>
<g transform="translate(570,395) scale(0.1)" class="l">
<!-- part 13 -->
<path class="w" d="M100 230 Q100 200 130 185 L200 140 Q225 125 260 130 L330 165 Q355 185 345 210 L270 300 Q240 326 200 320 L140 300 Q100 276 100 230 Z"/>
<path d="M150 240 Q150 215 178 198 L232 160 Q252 150 280 156 L335 185 M150 240 Q160 280 200 292 L250 300"/>
<ellipse cx="236" cy="250" rx="26" ry="32" transform="rotate(25 236 250)"/>
<ellipse cx="240" cy="250" rx="15" ry="20" transform="rotate(25 240 250)"/>
<ellipse cx="172" cy="266" rx="11" ry="14"/>
<ellipse cx="298" cy="200" rx="9" ry="11"/>
<path d="M128 185 L118 172 L150 160 L160 168"/>
<!-- bolt 15 -->
<path class="t" d="M332 216 L404 250"/>
<path class="w" d="M414 240 L505 282 L490 320 L404 276 Q396 252 414 240 Z"/>
<path class="t" d="M428 247 L418 282 M444 254 L434 290 M460 262 L450 298 M476 270 L466 306 M492 277 L480 314"/>
<ellipse class="w" cx="515" cy="320" rx="20" ry="50" transform="rotate(-22 515 320)"/>
<path class="w" d="M540 290 L590 308 Q622 325 620 355 Q612 395 580 400 L540 385 Q515 350 540 290 Z"/>
<path d="M560 296 Q540 340 556 392"/>
<ellipse cx="588" cy="352" rx="28" ry="44" transform="rotate(-15 588 352)"/>
</g>
<g transform="translate(500,380) scale(0.1)" class="l">
<!-- gasket 14 -->
<path class="t" d="M512 -225 L512 22 M512 206 L512 994 L650 940"/>
<path class="t" d="M440 -213 L512 -225"/>
<path class="w" d="M335 130 Q335 100 370 80 L440 35 Q470 22 500 28 L545 55 Q572 75 565 100 L495 190 Q470 212 440 205 L360 185 Q335 165 335 130 Z"/>
<path d="M350 112 L352 172 M352 172 Q400 200 450 192 L560 80"/>
<ellipse cx="460" cy="122" rx="26" ry="50" transform="rotate(32 460 122)"/>
<path d="M448 92 Q436 130 452 160"/>
<ellipse cx="400" cy="136" rx="9" ry="11"/>
<ellipse cx="540" cy="88" rx="9" ry="11"/>
</g>
<g transform="translate(555,350) scale(0.075)" class="l" style="stroke:#777;stroke-width:0.9">
<!-- ghost bolt fig 3-28 -->
<path d="M150 128 L380 228 M138 160 L350 262 M150 128 Q132 140 138 160" stroke-dasharray="3 1"/>
<path d="M170 140 L160 168 M200 152 L190 182 M230 166 L220 196 M260 180 L250 210 M290 194 L280 224 M320 208 L310 240" style="stroke-width:0.6"/>
<path d="M372 205 Q395 195 430 205 L462 238 M330 270 Q320 300 340 325 L400 350 Q440 352 462 330" stroke-dasharray="3 1.2"/>
<path d="M372 205 Q350 240 352 262 L400 290 L440 300 L462 238 M400 290 L400 350 M352 262 L330 270 M440 300 L462 330 L490 270 L462 238" stroke-dasharray="2.4 1.2"/>
</g>
</g>
<g id="gasket20">
<g transform="translate(295,450) scale(0.1)" class="l">
<path d="M108 575 Q118 604 160 604 L230 634 L300 674 L330 714 L400 744 L500 784 L590 834 Q610 864 650 864 Q700 864 715 824 L740 779 L780 754 L1120 694 L1240 644 L1345 584 L1370 534 L1372 510"/>
<path fill="#f4f4f4" fill-rule="evenodd" d="M650 85 L690 90 L1345 465 Q1380 490 1370 520 L1345 570 L1240 630 L1120 680 L780 740 L740 765 L715 810 Q700 850 650 850 Q610 850 590 820 L500 770 L400 730 L330 700 L300 660 L230 620 L160 590 Q115 590 105 560 Q95 530 130 515 L200 490 Q250 470 270 430 L330 310 Q340 280 360 260 Z
M640 150 L470 230 Q450 250 465 280 Q480 310 460 330 L420 345 L375 350 L340 435 L350 450 L372 470 L400 480 L410 510 L440 520 Q450 545 480 540 L560 540 Q620 560 630 610 L640 650 L665 665 L750 710 L950 670 L995 650 L1000 600 L950 570 L955 545 L1000 500 L1030 470 L1080 440 L1140 430 L1170 425 Q1180 410 1160 400 L810 205 L795 200 Q785 215 760 220 Q730 215 720 185 Q700 195 675 195 Q645 190 640 150 Z"/>
<!-- holes -->
<ellipse cx="415" cy="295" rx="22" ry="13" fill="#fff"/>
<ellipse cx="690" cy="148" rx="22" ry="13" fill="#fff"/>
<ellipse cx="320" cy="470" rx="14" ry="9" fill="#fff"/>
<ellipse cx="160" cy="545" rx="22" ry="14" fill="#fff"/><ellipse cx="163" cy="546" rx="11" ry="7" class="k"/>
<ellipse cx="1240" cy="462" rx="16" ry="10" fill="#fff"/>
<ellipse cx="1315" cy="483" rx="24" ry="14" fill="#fff"/>
<ellipse cx="1068" cy="636" rx="22" ry="13" fill="#fff"/>
<ellipse cx="650" cy="808" rx="22" ry="13" fill="#fff"/>
<!-- slots -->
<path fill="#fff" d="M225 540 L250 520 L335 570 L310 605 L235 570 Z"/>
<path d="M245 545 L260 535 L318 572 L305 590 Z"/>
<path fill="#fff" d="M325 400 L355 350 L372 356 L340 436 L322 430 Z"/>
<ellipse cx="475" cy="640" rx="112" ry="60" fill="#fff" transform="rotate(-4 475 640)"/>
<ellipse cx="475" cy="642" rx="102" ry="52" transform="rotate(-4 475 642)"/>
<path fill="#fff" d="M520 735 L570 705 L642 740 L642 778 L590 790 Z"/>
<path d="M545 740 L572 722 L625 748 L600 772 Z"/>
<path fill="#fff" d="M1065 510 L1140 470 L1210 505 L1215 520 L1150 556 Z"/>
<path d="M1085 512 L1140 484 L1192 510 L1148 538 Z"/>
<path fill="#fff" d="M995 565 L1030 545 L1090 575 L1055 600 Z"/>
<path d="M1010 568 L1032 556 L1072 576 L1052 590 Z"/>
<path fill="#fff" d="M1110 605 L1260 530 L1280 540 L1130 620 Z"/>
</g>
<g transform="translate(310,490) scale(0.1)" class="l">
<!-- washer 21 -->
<path class="w" d="M425 655 Q430 620 495 618 Q562 620 566 655 L566 670 Q560 704 495 706 Q430 704 425 670 Z"/>
<path d="M425 655 Q432 690 495 692 Q560 690 566 655"/>
<ellipse cx="495" cy="650" rx="30" ry="13"/>
</g>
<g transform="translate(330,545) scale(0.075)" class="l">
<!-- bolt 22 -->
<path class="w" d="M355 280 Q358 255 397 254 Q438 256 440 280 L440 600 L355 600 Z"/>
<path class="t" d="M356 300 L440 292 M356 322 L440 314 M356 344 L440 336 M356 366 L440 358 M356 388 L440 380 M356 410 L440 402 M356 432 L440 424"/>
<path class="w" d="M312 600 Q318 570 397 566 Q476 570 482 600 L482 618 Q470 642 397 646 Q324 642 312 618 Z"/>
<path class="w" d="M330 640 L326 680 L352 708 L400 718 L448 706 L468 676 L464 640 Q400 660 330 640 Z"/>
<path d="M364 652 L368 710 M430 652 L432 710 M312 600 Q330 626 397 628 Q464 626 482 600"/>
<path class="w" d="M357 566 L357 590 Q397 604 438 590 L438 566" style="fill:#fff"/>
</g>
</g>
<g id="bottom">
<g transform="translate(540,450) scale(0.125)" class="l">
<!-- hose 23 -->
<path d="M214 166 L385 96 Q470 84 470 172 L470 836 L415 836 L415 200 Q415 150 385 150 L240 210"/>
<ellipse cx="224" cy="188" rx="17" ry="25" transform="rotate(-20 224 188)"/>
<ellipse cx="224" cy="188" rx="8" ry="12" transform="rotate(-20 224 188)"/>
</g>
<g transform="translate(500,520) scale(0.1)" class="l">
<path class="t" d="M415 70 L415 128"/>
<path class="w" d="M470 140 L540 120 Q582 120 578 150 L560 165 L500 175 Z"/>
<path class="w" d="M352 170 Q356 132 410 130 Q466 132 468 170 L468 205 Q440 240 400 236 Q356 225 352 205 Z"/>
<ellipse cx="410" cy="172" rx="44" ry="18"/>
<path class="w" d="M455 185 L500 175 L520 200 L520 235 L490 250 L465 240 L455 210 Z"/>
<path d="M500 175 L490 210 L490 250 M455 185 L470 195 L490 210 L520 200 M530 140 Q545 150 560 140"/>
<!-- small tube -->
<path class="w" d="M362 300 Q366 278 415 276 Q464 278 468 300 L468 410 Q440 436 415 432 Q380 430 362 405 Z"/>
<ellipse cx="415" cy="300" rx="38" ry="15"/>
<path d="M362 300 Q380 325 415 324 Q450 325 468 300 M420 412 Q432 400 445 412"/>
<!-- tube 18 -->
<path class="w" d="M362 475 Q366 452 415 450 Q464 452 468 475 L468 665 Q460 690 415 692 Q370 690 362 665 Z"/>
<path d="M380 462 Q400 475 415 465"/>
<path class="w" d="M470 725 L540 705 Q582 705 578 735 L560 750 L500 760 Z"/>
<path class="w" d="M352 755 Q356 717 410 715 Q466 717 468 755 L468 790 Q440 825 400 821 Q356 810 352 790 Z"/>
<ellipse cx="410" cy="757" rx="44" ry="18"/>
<path class="w" d="M455 770 L500 760 L520 785 L520 820 L490 835 L465 825 L455 795 Z"/>
<path d="M500 760 L490 795 L490 835 M455 770 L470 780 L490 795 L520 785 M530 725 Q545 735 560 725"/>
<!-- filter 17 -->
<path class="w" d="M378 875 Q380 858 415 855 Q448 858 450 875 L445 900 L435 905 L435 960 L395 960 L395 905 L385 900 Z"/>
<path d="M378 875 Q415 890 450 875 M385 900 Q415 910 445 900"/>
<path class="w" d="M335 968 Q340 940 395 934 L435 934 Q492 940 497 968 L497 1240 Q490 1270 415 1274 Q342 1270 335 1240 Z"/>
<path class="w" d="M395 940 L395 960 Q415 968 435 960 L435 940"/>
<path d="M335 1025 Q415 1050 497 1025 M335 1205 Q415 1232 497 1205"/>
<path class="t" d="M420 1045 L420 1225" />
<g class="t" style="stroke:#666;stroke-dasharray:1.1 0.9">
<path d="M350 1040 L350 1210 M362 1042 L362 1214 M374 1045 L374 1217 M386 1046 L386 1219 M398 1047 L398 1220 M440 1047 L440 1220 M452 1046 L452 1219 M464 1045 L464 1217 M476 1042 L476 1214 M488 1040 L488 1210"/>
</g>
</g>
</g>
<g id="leaders">
<path class="t" d="M251.5 189 L251.5 200"/>
<path class="t" d="M301.75 279.5 L301.75 292.5"/>
<path class="t" d="M308 346 L308 361"/>
<path class="t" d="M196.75 418.75 L196.75 433.75"/>
<path class="t" d="M411.25 370.75 L424.25 370.75"/>
<path class="t" d="M391.25 404.25 L403.75 404.25"/>
<path class="t" d="M432.5 506.25 L446.25 506.25"/>
<path class="t" d="M468.5 232 L468.5 251.25"/>
<path class="t" d="M512.5 257 L512.5 275.75"/>
<path class="t" d="M561.75 288 L561.75 307.5"/>
<path class="t" d="M587.25 295 L587.25 313.75"/>
<path class="t" d="M605.25 303 L605.25 321.75"/>
<path class="t" d="M638.25 321.25 L638.25 338.75"/>
<path class="t" d="M590 377.5 L606.25 393.75"/>
<path class="t" d="M541.25 398 L541.25 415"/>
<path class="t" d="M563 405.5 L563 415"/>
<path class="t" d="M575 415 L575 428.75"/>
<path class="t" d="M591.75 427.5 L591.75 442"/>
<path class="t" d="M627.5 434.25 L627.5 450"/>
<path class="t" d="M598.75 501.25 L610 501.25"/>
<path class="t" d="M522.5 538 L535.5 538"/>
<path class="t" d="M547.5 572 L562.5 572"/>
<path class="t" d="M522.5 596.25 L535.5 596.25"/>
<path class="t" d="M550 627 L566.25 627"/>
<path class="t" d="M367.5 555.75 L382 555.75"/>
<path class="t" d="M367 590.5 L382 590.5"/>
<path class="t" d="M595.5 558 L595.5 578"/>
<path class="k" d="M594.1 575.5 L596.9 575.5 L595.5 581 Z"/>
<path class="t" d="M429.7 378.5 L429.7 461 L541.5 527.5"/>
<path class="t" d="M268.8 430 L268.8 452.5 L360.5 502.5 L360.5 527.5 M360 539.5 L360 550"/>
</g>
<g id="labels">
<text class="n" x="250.5" y="186.00" text-anchor="middle">1</text>
<text class="n" x="301.75" y="277.00" text-anchor="middle">3</text>
<text class="n" x="305.4" y="372.75" text-anchor="middle">3</text>
<text class="n" x="195" y="444.00" text-anchor="middle">4</text>
<text class="n" x="406.5" y="374.75" text-anchor="middle">2</text>
<text class="n" x="411.75" y="408.50" text-anchor="middle">16</text>
<text class="n" x="455.25" y="511.00" text-anchor="middle">20</text>
<text class="n" x="467.5" y="230.75" text-anchor="middle">10</text>
<text class="n" x="512.5" y="255.75" text-anchor="middle">9</text>
<text class="n" x="561.25" y="286.50" text-anchor="middle">5</text>
<text class="n" x="586.75" y="293.25" text-anchor="middle">7</text>
<text class="n" x="605.25" y="301.50" text-anchor="middle">6</text>
<text class="n" x="638.25" y="319.50" text-anchor="middle">8</text>
<text class="n" x="604.2" y="405.6" textLength="41.6" lengthAdjust="spacingAndGlyphs" style="font-size:11.6px">Fig.3-28</text>
<text class="n" x="540.9" y="426.20" text-anchor="middle">14</text>
<text class="n" x="562.9" y="426.20" text-anchor="middle">12</text>
<text class="n" x="574.5" y="440.00" text-anchor="middle">11</text>
<text class="n" x="592.5" y="452.40" text-anchor="middle">13</text>
<text class="n" x="628.6" y="459.90" text-anchor="middle">15</text>
<text class="n" x="618.8" y="506.00" text-anchor="middle">23</text>
<text class="n" x="515.2" y="542.00" text-anchor="middle">19</text>
<text class="n" x="570.6" y="576.00" text-anchor="middle">18</text>
<text class="n" x="515.2" y="600.25" text-anchor="middle">19</text>
<text class="n" x="574.4" y="631.00" text-anchor="middle">17</text>
<text class="n" x="583.2" y="593.3" textLength="42" lengthAdjust="spacingAndGlyphs" style="font-size:11.6px">Fig.16-8</text>
<text class="n" x="390.4" y="559.75" text-anchor="middle">21</text>
<text class="n" x="390.6" y="594.00" text-anchor="middle">22</text>
</g>
</svg>
</body></html>
